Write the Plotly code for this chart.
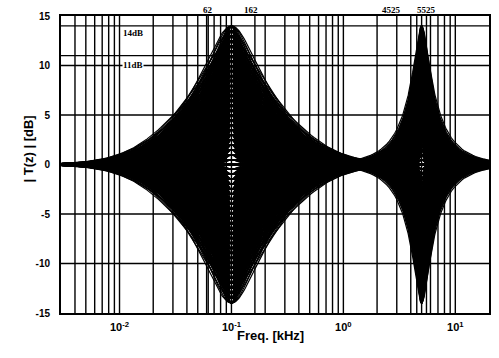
import numpy as np
import plotly.graph_objects as go

# ---------------- data ----------------
GAINS_DB = [g / 2 for g in range(-28, 29)]          # -14 ... 14 dB in 0.5 dB steps

B1_CENTER_KHZ = 0.1
B1_Q_VALUES = [0.3, 0.34, 0.38, 0.44, 0.5, 0.6, 0.7, 0.8, 0.9, 1.0, 1.15, 1.3, 1.5, 1.75, 2.0, 2.4, 2.7, 3.2, 3.6]
B1_QMIN_GAIN_LIMITS = [5, 7, 9, 11, 12.5, 14]
B1_QMIN_VALUES = [0.3, 0.38, 0.5, 0.7, 0.9, 1.15]

B2_CENTER_KHZ = 5.0
B2_Q_VALUES = [4.0, 4.4, 4.8, 5.3, 5.9, 6.5, 7.3, 8.2, 9.2, 10.5]

MARK_FREQS_KHZ = [0.062, 0.162, 4.525, 5.525]
MARK_LABELS = ["62", "162", "4525", "5525"]
MARK_LABEL_X_PX = [208, 251, 403, 438]

LEVEL_LINES_DB = [14, 11]
LEVEL_LABELS = ["14dB", "11dB"]

X_TICK_VALS = [0.01, 0.1, 1, 10]
X_TICK_TEXT = ["10<sup>-2</sup>", "10<sup>-1</sup>", "10<sup>0</sup>", "10<sup>1</sup>"]
Y_TICK_VALS = [15, 10, 5, 0, -5, -10, -15]
Y_TICK_TEXT = ["15", "10", "5", "0", "-5", "-10", "-15"]

F_MIN, F_MAX = 0.003, 20.0


# ---------------- helpers ----------------
def peak_db(f, f0, gain_db, q):
    r = f / f0
    d2 = (r - 1.0 / r) ** 2
    g2 = 10 ** (abs(gain_db) / 10.0)
    b2 = 1.0 / q ** 2
    return np.sign(gain_db) * 10 * np.log10((d2 + g2 * b2) / (d2 + b2))


def qmin_band1(g):
    for lim, v in zip(B1_QMIN_GAIN_LIMITS, B1_QMIN_VALUES):
        if abs(g) <= lim + 1e-9:
            return v
    return B1_QMIN_VALUES[-1]


base = np.logspace(np.log10(F_MIN), np.log10(F_MAX), 160)
grid1 = np.unique(np.concatenate([base, np.logspace(np.log10(0.03), np.log10(0.35), 80)]))
grid2 = np.unique(np.concatenate([base, np.logspace(np.log10(3.0), np.log10(8.5), 100)]))

xs, ys = [], []
for g in GAINS_DB:
    for q in B1_Q_VALUES:
        if q < qmin_band1(g):
            continue
        xs.extend(np.round(grid1, 5).tolist()); xs.append(None)
        ys.extend(np.round(peak_db(grid1, B1_CENTER_KHZ, g, q), 2).tolist()); ys.append(None)
    for q in B2_Q_VALUES:
        xs.extend(np.round(grid2, 5).tolist()); xs.append(None)
        ys.extend(np.round(peak_db(grid2, B2_CENTER_KHZ, g, q), 2).tolist()); ys.append(None)

fig = go.Figure()
fig.add_trace(go.Scatter(x=xs, y=ys, mode="lines",
                         line=dict(color="black", width=1.2), hoverinfo="skip",
                         showlegend=False))

# grid drawn on top of the curves
vgrid = [k * 10.0 ** n for n in range(-3, 2) for k in range(1, 10)]
vgrid = [v for v in vgrid if F_MIN < v < F_MAX] + MARK_FREQS_KHZ
gx, gy = [], []
for v in vgrid:
    gx += [v, v, None]; gy += [-15, 15, None]
for h in [-10, -5, 0, 5, 10] + LEVEL_LINES_DB:
    gx += [F_MIN, F_MAX, None]; gy += [h, h, None]
fig.add_trace(go.Scatter(x=gx, y=gy, mode="lines",
                         line=dict(color="black", width=1.4), hoverinfo="skip",
                         showlegend=False))

W, H = 499, 358
L, R, T, B = 61, 10, 16, 45
PW, PH = W - L - R, H - T - B

for lab, px in zip(MARK_LABELS, MARK_LABEL_X_PX):
    fig.add_annotation(x=(px - L) / PW, y=1, xref="paper", yref="paper",
                       text=lab, showarrow=False, yanchor="bottom", yshift=-1,
                       font=dict(family="Liberation Serif", size=9, color="black", weight="bold"))

for lab, lev, dy in zip(LEVEL_LABELS, LEVEL_LINES_DB, [-7, -9]):
    fig.add_annotation(x=np.log10(0.0105), y=lev, xref="x", yref="y", text=lab,
                       showarrow=False, xanchor="left", yshift=dy,
                       font=dict(family="Liberation Serif", size=9, color="black", weight="bold"),
                       bgcolor="white", borderpad=0)

# axis titles
fig.add_annotation(x=(270 - L) / PW, y=(H - 345 - B) / PH, xref="paper", yref="paper",
                   text="Freq. [kHz]", showarrow=False,
                   font=dict(family="Liberation Sans", size=13, color="black", weight="bold"))
fig.add_annotation(x=(18 - L) / PW, y=(H - 149 - B) / PH, xref="paper", yref="paper",
                   text="| T(z) | [dB]", showarrow=False, textangle=-90,
                   font=dict(family="Liberation Sans", size=13, color="black", weight="bold"))

fig.update_layout(
    width=W, height=H, margin=dict(l=L, r=R, t=T, b=B, autoexpand=False),
    paper_bgcolor="white", plot_bgcolor="white", hovermode=False,
    xaxis=dict(type="log", range=[np.log10(F_MIN), np.log10(F_MAX)], automargin=False,
               tickvals=X_TICK_VALS, ticktext=X_TICK_TEXT, showgrid=False, zeroline=False,
               showline=True, mirror=True, linecolor="black", linewidth=2, ticks="",
               ticklabelstandoff=3,
               tickfont=dict(family="Liberation Sans", size=11, color="black", weight="bold")),
    yaxis=dict(range=[-15, 15], tickvals=Y_TICK_VALS, ticktext=Y_TICK_TEXT, automargin=False,
               showgrid=False, zeroline=False, showline=True, mirror=True,
               linecolor="black", linewidth=2, ticks="", ticklabelstandoff=7,
               tickfont=dict(family="Liberation Sans", size=10, color="black", weight="bold")),
)

fig.write_html("out.html", config={"displayModeBar": False, "staticPlot": True},
               post_script="document.body.style.margin='0';document.body.style.padding='0';")
